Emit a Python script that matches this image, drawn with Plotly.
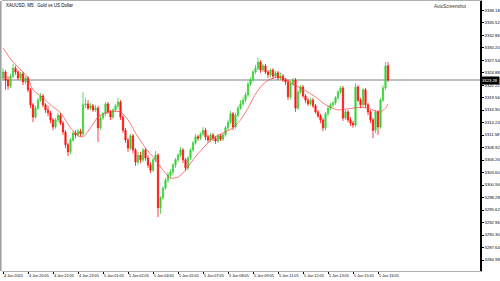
import plotly.graph_objects as go

# ---------------- data ----------------
bar_index = list(range(155))

opens = [
    3323.7, 3325.0, 3323.3, 3322.0, 3324.1, 3325.8, 3325.0, 3323.7, 3324.6, 3322.9,
    3323.7, 3321.2, 3318.0, 3315.4, 3317.3, 3319.0, 3319.9, 3318.0, 3316.9, 3316.3,
    3314.8, 3313.3, 3314.8, 3315.8, 3314.1, 3312.2, 3309.5, 3308.0, 3310.5, 3312.0,
    3311.6, 3312.4, 3311.8, 3318.0, 3318.2, 3317.3, 3317.8, 3316.9, 3317.3, 3313.1,
    3315.2, 3316.1, 3318.2, 3316.5, 3315.4, 3316.9, 3317.8, 3318.6, 3315.4, 3312.6,
    3310.5, 3308.8, 3311.4, 3308.4, 3305.8, 3307.3, 3306.3, 3308.4, 3306.7, 3305.2,
    3304.1, 3306.3, 3307.3, 3296.1, 3298.2, 3300.3, 3302.0, 3303.1, 3303.7, 3305.2,
    3306.3, 3307.3, 3308.4, 3306.3, 3304.6, 3306.7, 3308.4, 3309.9, 3311.2, 3310.9,
    3311.8, 3312.6, 3311.2, 3310.5, 3311.6, 3310.9, 3310.3, 3311.4, 3310.7, 3311.6,
    3313.1, 3314.3, 3316.1, 3313.3, 3315.8, 3317.3, 3318.2, 3319.0, 3320.1, 3322.4,
    3323.3, 3325.0, 3325.8, 3327.1, 3325.4, 3326.3, 3325.0, 3324.4, 3325.4, 3324.1,
    3324.8, 3323.7, 3324.1, 3323.3, 3322.9, 3319.7, 3322.6, 3323.3, 3317.3, 3320.7,
    3321.8, 3319.9, 3319.0, 3318.2, 3319.0, 3317.8, 3316.5, 3315.6, 3314.8, 3313.1,
    3316.1, 3317.3, 3318.0, 3318.4, 3319.5, 3320.7, 3321.6, 3315.2, 3316.5, 3314.8,
    3314.1, 3313.7, 3321.8, 3319.0, 3318.0, 3321.2, 3318.0, 3316.5, 3314.8, 3312.6,
    3316.5, 3313.3, 3319.0, 3321.6, 3326.3,
]

closes = [
    3325.0, 3323.3, 3322.0, 3324.1, 3325.8, 3325.0, 3323.7, 3324.6, 3322.9, 3323.7,
    3321.2, 3318.0, 3315.4, 3317.3, 3319.0, 3319.9, 3318.0, 3316.9, 3316.3, 3314.8,
    3313.3, 3314.8, 3315.8, 3314.1, 3312.2, 3309.5, 3308.0, 3310.5, 3312.0, 3311.6,
    3312.4, 3311.8, 3318.0, 3318.2, 3317.3, 3317.8, 3316.9, 3317.3, 3313.1, 3315.2,
    3316.1, 3318.2, 3316.5, 3315.4, 3316.9, 3317.8, 3318.6, 3315.4, 3312.6, 3310.5,
    3308.8, 3311.4, 3308.4, 3305.8, 3307.3, 3306.3, 3308.4, 3306.7, 3305.2, 3304.1,
    3306.3, 3307.3, 3296.1, 3298.2, 3300.3, 3302.0, 3303.1, 3303.7, 3305.2, 3306.3,
    3307.3, 3308.4, 3306.3, 3304.6, 3306.7, 3308.4, 3309.9, 3311.2, 3310.9, 3311.8,
    3312.6, 3311.2, 3310.5, 3311.6, 3310.9, 3310.3, 3311.4, 3310.7, 3311.6, 3313.1,
    3314.3, 3316.1, 3313.3, 3315.8, 3317.3, 3318.2, 3319.0, 3320.1, 3322.4, 3323.3,
    3325.0, 3325.8, 3327.1, 3325.4, 3326.3, 3325.0, 3324.4, 3325.4, 3324.1, 3324.8,
    3323.7, 3324.1, 3323.3, 3322.9, 3319.7, 3322.6, 3323.3, 3317.3, 3320.7, 3321.8,
    3319.9, 3319.0, 3318.2, 3319.0, 3317.8, 3316.5, 3315.6, 3314.8, 3313.1, 3316.1,
    3317.3, 3318.0, 3318.4, 3319.5, 3320.7, 3321.6, 3315.2, 3316.5, 3314.8, 3314.1,
    3313.7, 3321.8, 3319.0, 3318.0, 3321.2, 3318.0, 3316.5, 3314.8, 3312.6, 3316.5,
    3313.3, 3319.0, 3321.6, 3326.3, 3323.3,
]

highs = [
    3325.8, 3325.4, 3324.1, 3324.6, 3326.7, 3326.3, 3325.4, 3325.0, 3325.0, 3324.1,
    3324.1, 3321.6, 3318.4, 3317.8, 3319.5, 3320.5, 3320.3, 3318.4, 3317.8, 3316.7,
    3315.2, 3315.2, 3316.3, 3316.3, 3314.6, 3312.6, 3309.9, 3310.9, 3312.4, 3312.6,
    3312.9, 3312.9, 3320.7, 3319.5, 3319.0, 3318.4, 3318.2, 3318.0, 3317.8, 3315.6,
    3316.5, 3318.6, 3318.6, 3316.9, 3317.3, 3318.2, 3319.5, 3319.0, 3315.8, 3313.1,
    3310.9, 3311.8, 3311.8, 3308.8, 3308.0, 3308.0, 3308.8, 3308.8, 3307.3, 3305.8,
    3306.7, 3308.2, 3307.7, 3298.6, 3300.7, 3302.4, 3303.7, 3304.3, 3305.6, 3306.7,
    3307.7, 3309.0, 3308.8, 3306.7, 3307.1, 3308.8, 3310.3, 3311.8, 3311.6, 3312.2,
    3313.3, 3313.1, 3311.6, 3312.0, 3312.0, 3311.4, 3311.8, 3311.8, 3312.0, 3313.5,
    3314.8, 3316.7, 3316.5, 3316.3, 3317.8, 3319.0, 3319.7, 3320.7, 3322.9, 3323.9,
    3325.4, 3326.5, 3328.0, 3327.5, 3326.7, 3326.7, 3325.4, 3325.8, 3325.8, 3325.2,
    3325.2, 3324.8, 3324.6, 3323.7, 3323.3, 3323.1, 3323.7, 3323.7, 3321.2, 3322.2,
    3322.2, 3320.3, 3319.5, 3319.5, 3319.5, 3318.2, 3316.9, 3316.1, 3315.2, 3316.5,
    3317.8, 3318.4, 3318.8, 3319.9, 3321.2, 3322.0, 3322.0, 3316.9, 3316.9, 3315.4,
    3314.6, 3322.6, 3322.2, 3319.5, 3321.6, 3321.6, 3318.4, 3316.9, 3315.2, 3316.9,
    3316.9, 3319.5, 3322.2, 3327.1, 3327.1,
]

lows = [
    3323.3, 3321.2, 3321.2, 3321.6, 3323.7, 3324.4, 3323.3, 3323.3, 3322.2, 3322.4,
    3320.7, 3317.3, 3314.3, 3315.0, 3316.9, 3318.6, 3317.5, 3316.3, 3315.6, 3314.1,
    3312.6, 3312.9, 3314.3, 3313.7, 3311.6, 3308.8, 3307.1, 3307.5, 3310.1, 3310.9,
    3311.2, 3311.2, 3311.4, 3317.3, 3316.9, 3316.9, 3316.5, 3316.5, 3310.1, 3312.6,
    3314.8, 3315.6, 3316.1, 3314.8, 3315.0, 3316.5, 3317.3, 3314.8, 3312.0, 3309.9,
    3308.0, 3308.4, 3307.7, 3305.0, 3305.2, 3305.6, 3305.8, 3306.1, 3304.6, 3303.5,
    3303.7, 3305.8, 3294.1, 3294.8, 3297.8, 3299.9, 3301.4, 3302.4, 3303.1, 3304.6,
    3305.8, 3306.9, 3305.6, 3303.9, 3304.1, 3306.3, 3308.0, 3309.5, 3310.3, 3310.5,
    3311.4, 3310.5, 3309.9, 3310.1, 3310.3, 3309.7, 3309.9, 3310.3, 3310.3, 3311.2,
    3312.6, 3313.9, 3312.6, 3312.9, 3315.4, 3316.9, 3317.8, 3318.6, 3319.7, 3322.0,
    3322.9, 3324.6, 3325.4, 3324.8, 3325.0, 3324.6, 3323.7, 3323.9, 3323.5, 3323.7,
    3323.3, 3323.3, 3322.9, 3322.2, 3319.0, 3319.2, 3322.0, 3316.5, 3316.9, 3320.3,
    3319.5, 3318.4, 3317.8, 3317.8, 3317.3, 3316.1, 3315.2, 3314.1, 3312.4, 3312.6,
    3315.6, 3316.9, 3317.5, 3318.0, 3319.0, 3320.3, 3314.6, 3314.8, 3314.3, 3313.5,
    3313.1, 3313.3, 3318.6, 3317.3, 3317.5, 3317.3, 3315.8, 3314.1, 3310.9, 3312.0,
    3311.6, 3312.9, 3318.6, 3321.2, 3322.9,
]

ma_index = [0, 4, 8, 10, 12, 16, 19, 23, 27, 30, 32, 35, 38, 42, 47, 50, 53, 57, 61, 64,
            67, 70, 73, 76, 80, 84, 88, 92, 95, 98, 101, 104, 107, 110, 113, 116, 119, 122,
            125, 128, 131, 134, 137, 140, 143, 146, 149, 151, 153, 154]
ma_values = [3330.1, 3327.1, 3325.0, 3323.7, 3321.2, 3319.5, 3318.0, 3316.3, 3313.1, 3311.4,
             3311.2, 3313.1, 3315.4, 3316.5, 3316.5, 3314.8, 3312.0, 3308.8, 3306.3, 3304.1,
             3302.4, 3302.6, 3304.1, 3306.3, 3308.8, 3310.9, 3312.0, 3313.1, 3314.8, 3317.3,
             3320.3, 3322.4, 3323.5, 3323.9, 3323.5, 3322.4, 3321.6, 3320.7, 3319.7, 3318.4,
             3317.5, 3316.9, 3317.1, 3317.3, 3317.5, 3317.3, 3316.7, 3316.5, 3317.3, 3318.2]

x_tick_index = [0, 10, 20, 30, 40, 50, 60, 70, 80, 90, 100, 110, 120, 130, 140, 150]
x_tick_labels = ["4 Jun 2025", "4 Jun 20:05", "4 Jun 22:05", "4 Jun 23:05", "5 Jun 01:05",
                 "5 Jun 02:05", "5 Jun 04:05", "5 Jun 05:05", "5 Jun 07:05", "5 Jun 08:05",
                 "5 Jun 09:05", "5 Jun 11:05", "5 Jun 12:05", "5 Jun 13:05", "5 Jun 15:05",
                 "5 Jun 16:05"]

y_tick_values = [3284.98, 3287.64, 3290.30, 3292.96, 3295.62, 3298.28, 3300.94, 3303.60,
                 3306.26, 3308.92, 3311.58, 3314.24, 3316.90, 3319.56, 3322.22, 3324.88,
                 3327.54, 3330.20, 3332.86, 3335.52, 3338.18]

current_price = 3323.28
chart_title = "XAUUSD, M5:  Gold vs US Dollar"
watermark = "AutoScreenshot"

# ---------------- figure ----------------
FONT = "Liberation Sans"
fig = go.Figure()

fig.add_trace(go.Candlestick(
    x=bar_index, open=opens, high=highs, low=lows, close=closes,
    increasing=dict(line=dict(color="#3ad13a", width=0.8), fillcolor="#3ad13a"),
    decreasing=dict(line=dict(color="#ff1010", width=0.8), fillcolor="#ff1010"),
    whiskerwidth=0, hoverinfo="skip", showlegend=False,
))

fig.add_trace(go.Scatter(
    x=ma_index, y=ma_values, mode="lines",
    line=dict(color="rgba(255,60,60,0.7)", width=1, shape="spline", smoothing=0.6),
    hoverinfo="skip", showlegend=False,
))

fig.update_layout(
    width=500, height=281,
    margin=dict(l=2, r=20, t=1, b=10, autoexpand=False),
    paper_bgcolor="white", plot_bgcolor="white",
    font=dict(family=FONT, size=4.5, color="black"),
    xaxis=dict(
        range=[-0.4, 190.8], rangeslider=dict(visible=False),
        tickmode="array", tickvals=x_tick_index, ticktext=x_tick_labels,
        tickangle=0, automargin=False,
        ticks="outside", ticklen=2, tickcolor="black", tickwidth=1,
        ticklabelposition="outside right",
        showgrid=False, zeroline=False,
        showline=True, linecolor="#b0b0b0", linewidth=1, mirror=True,
        tickfont=dict(family=FONT, size=3.8, color="black"),
        fixedrange=True,
    ),
    yaxis=dict(
        range=[3282.64, 3340.1], side="right", automargin=False,
        tickmode="array", tickvals=y_tick_values,
        ticktext=[f"{v:.2f}" for v in y_tick_values],
        ticks="outside", ticklen=2, tickcolor="black", tickwidth=1,
        showgrid=False, zeroline=False,
        showline=True, linecolor="black", linewidth=1.5,
        tickfont=dict(family=FONT, size=4.2, color="black"),
        fixedrange=True,
    ),
    shapes=[
        dict(type="line", xref="paper", yref="y", x0=0, x1=1,
             y0=current_price, y1=current_price,
             line=dict(color="#a8a8a8", width=1.5), layer="below"),
        dict(type="line", xref="paper", yref="paper", x0=-0.003, x1=-0.003, y0=0, y1=1,
             line=dict(color="#a0a0a0", width=2)),
    ],
    annotations=[
        dict(text=chart_title, xref="paper", yref="paper", x=0.004, y=0.985,
             xanchor="left", yanchor="middle", showarrow=False,
             font=dict(family=FONT, size=4.5, color="black")),
        dict(text=watermark, xref="paper", yref="paper", x=0.978, y=0.978,
             xanchor="right", yanchor="middle", showarrow=False,
             font=dict(family=FONT, size=4.5, color="#333333")),
        dict(text=f"{current_price:.2f}", xref="paper", yref="y", x=1.0, y=current_price,
             xanchor="left", yanchor="middle", showarrow=False,
             bgcolor="black", borderpad=1,
             font=dict(family=FONT, size=4.2, color="white")),
    ],
)

fig.write_html("out.html", config={"displayModeBar": False})
